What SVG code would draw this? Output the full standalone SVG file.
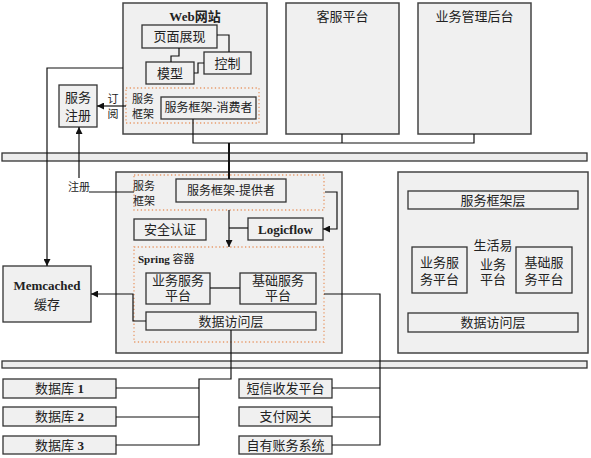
<svg xmlns="http://www.w3.org/2000/svg" width="591" height="458" viewBox="0 0 591 458">
<style>
.box{fill:#f0f0f0;stroke:#333;stroke-width:1.3}
.big{fill:#f0f0f0;stroke:#444;stroke-width:1.5}
.dot{fill:none;stroke:#e89a6a;stroke-width:1.3;stroke-dasharray:1.3,2.4}
.bar{fill:#ececec;stroke:#333;stroke-width:1.3}
text{font-family:"Liberation Serif","Noto Sans CJK SC",serif;font-size:13px;fill:#222;text-anchor:middle}
.s{font-size:11px}
.m{font-size:12px}
.b{font-weight:bold}
.l{text-anchor:start}
.c{fill:none;stroke:#111;stroke-width:1.2}
.t{fill:none;stroke:#111;stroke-width:2}
</style>
<defs>
<marker id="ah" viewBox="0 0 10 10" refX="10" refY="5" markerWidth="7" markerHeight="7" orient="auto" markerUnits="userSpaceOnUse">
<path d="M0,0 L10,5 L0,10 z" fill="#111"/>
</marker>
</defs>
<g id="web">
<rect class="big" x="123" y="3" width="144" height="131"/>
<text class="b" x="195" y="21">Web网站</text>
</g>
<g id="page"><rect class="box" x="142" y="25" width="75" height="23"/><text x="179.5" y="41">页面展现</text></g>
<g id="ctrl"><rect class="box" x="204" y="52" width="47" height="22"/><text x="227.5" y="68">控制</text></g>
<g id="model"><rect class="box" x="146" y="62" width="48" height="22"/><text x="170" y="78">模型</text></g>
<g id="fw-consumer">
<rect class="dot" x="126" y="88" width="133" height="35"/>
<text class="s" x="143" y="103">服务</text><text class="s" x="143" y="118">框架</text>
<rect class="box" x="161" y="97" width="95" height="22"/><text class="m" x="208.5" y="112">服务框架-消费者</text>
</g>
<g id="registry"><rect class="box" x="59" y="85" width="38" height="42"/><text x="78" y="102">服务</text><text x="78" y="120">注册</text></g>
<g id="kefu"><rect class="big" x="286" y="3" width="113" height="131"/><text x="342.5" y="21">客服平台</text></g>
<g id="admin"><rect class="big" x="418" y="3" width="113" height="131"/><text x="474.5" y="21">业务管理后台</text></g>
<g id="bus1"><rect class="bar" x="2" y="153" width="585" height="8"/></g>
<g id="main">
<rect class="big" x="116" y="172" width="226" height="181"/>
<rect class="dot" x="134" y="175" width="190" height="35"/>
<text class="s" x="144" y="190">服务</text><text class="s" x="144" y="205">框架</text>
<rect class="dot" x="134" y="247" width="190" height="95"/>
<text class="s l" x="138" y="263"><tspan class="b">Spring</tspan> 容器</text>
</g>
<g id="provider"><rect class="box" x="176" y="179" width="110" height="23"/><text class="m" x="231" y="195">服务框架-提供者</text></g>
<g id="auth"><rect class="box" x="134" y="219" width="72" height="21"/><text x="170" y="234">安全认证</text></g>
<g id="logicflow"><rect class="box" x="248" y="218" width="75" height="22"/><text class="b" x="285.5" y="234">Logicflow</text></g>
<g id="biz"><rect class="box" x="146" y="273" width="64" height="31"/><text x="178" y="285">业务服务</text><text x="178" y="300">平台</text></g>
<g id="base"><rect class="box" x="240" y="273" width="76" height="31"/><text x="278" y="285">基础服务</text><text x="278" y="300">平台</text></g>
<g id="dal"><rect class="box" x="146" y="312" width="170" height="18"/><text x="231" y="326">数据访问层</text></g>
<g id="memcached"><rect class="box" x="3" y="266" width="88" height="56"/><text class="b" x="47" y="290">Memcached</text><text x="47" y="309">缓存</text></g>
<g id="shenghuoyi">
<rect class="big" x="398" y="172" width="190" height="181"/>
<rect class="box" x="408" y="191" width="170" height="18"/><text x="493" y="205">服务框架层</text>
<rect class="box" x="412" y="247" width="55" height="46"/><text x="439.5" y="267">业务服</text><text x="439.5" y="284">务平台</text>
<rect class="box" x="516" y="247" width="56" height="46"/><text x="544" y="267">基础服</text><text x="544" y="284">务平台</text>
<text x="493" y="250">生活易</text><text x="493" y="269">业务</text><text x="493" y="284">平台</text>
<rect class="box" x="408" y="313" width="170" height="19"/><text x="493" y="327">数据访问层</text>
</g>
<g id="bus2"><rect class="bar" x="2" y="361" width="585" height="7"/></g>
<g id="db1"><rect class="box" x="3" y="379" width="113" height="19"/><text x="59.5" y="393">数据库 <tspan class="b">1</tspan></text></g>
<g id="db2"><rect class="box" x="3" y="407" width="113" height="19"/><text x="59.5" y="421">数据库 <tspan class="b">2</tspan></text></g>
<g id="db3"><rect class="box" x="3" y="436" width="113" height="18"/><text x="59.5" y="450">数据库 <tspan class="b">3</tspan></text></g>
<g id="sms"><rect class="box" x="239" y="379" width="93" height="19"/><text x="285.5" y="393">短信收发平台</text></g>
<g id="pay"><rect class="box" x="239" y="407" width="93" height="19"/><text x="285.5" y="421">支付网关</text></g>
<g id="acct"><rect class="box" x="239" y="436" width="93" height="18"/><text x="285.5" y="450">自有账务系统</text></g>
<g id="connectors">
<path class="c" d="M179,48 V56 H171 V62"/>
<path class="c" d="M217,35 H229 V52"/>
<path class="c" d="M194,73 H198 V63 H204"/>
<path class="c" d="M193,119 V143 H474 V134"/>
<path class="c" d="M342,134 V143"/>
<path class="t" d="M229,143 V179"/>
<path class="c" d="M123,68 H47 V266" marker-end="url(#ah)"/>
<path class="c" d="M126,106 H97" marker-end="url(#ah)"/>
<text class="s" x="113" y="103">订</text><text class="s" x="113" y="118">阅</text>
<path class="c" d="M79,178 V127" marker-end="url(#ah)"/>
<text class="s" x="79" y="191">注册</text>
<path class="c" d="M89,192 H134"/>
<path class="c" d="M325,192 H337 V229 H323" marker-end="url(#ah)"/>
<path class="c" d="M229,210 V247" marker-end="url(#ah)"/>
<path class="c" d="M248,228 H229"/>
<path class="c" d="M210,288 H240"/>
<path class="c" d="M146,321 H133 V294 H91" marker-end="url(#ah)"/>
<path class="c" d="M324,294 H380 V445 H332"/>
<path class="c" d="M332,388 H380 M332,417 H380"/>
<path class="c" d="M231,330 V379 H199 V445 H116"/>
<path class="c" d="M116,388 H199 M116,417 H199"/>
</g>
</svg>
